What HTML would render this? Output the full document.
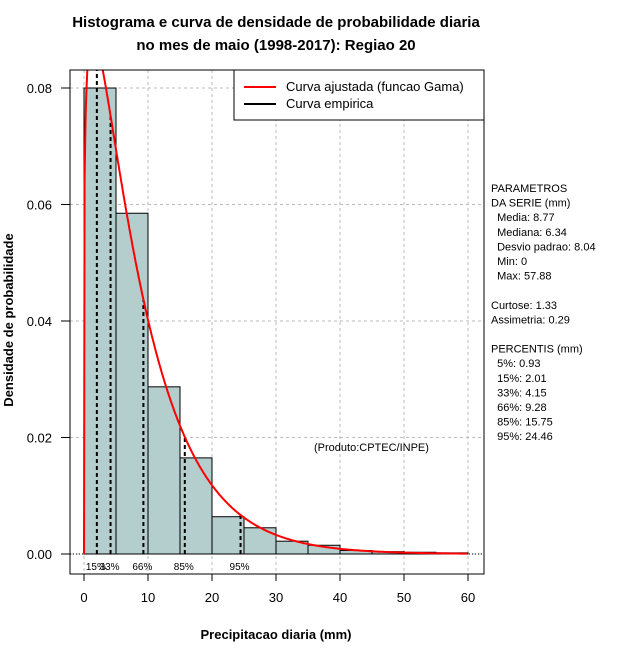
<!DOCTYPE html>
<html><head><meta charset="utf-8"><style>
body{margin:0;background:#fff;width:640px;height:660px;overflow:hidden}
svg{display:block;font-family:"Liberation Sans",sans-serif}
</style></head><body>
<svg id="chart" width="640" height="660">
<text x="276" y="27" text-anchor="middle" font-size="15" font-weight="bold">Histograma e curva de densidade de probabilidade diaria</text>
<text x="276" y="50" text-anchor="middle" font-size="15" font-weight="bold">no mes de maio (1998-2017): Regiao 20</text>
<text x="276" y="639" text-anchor="middle" font-size="13" font-weight="bold">Precipitacao diaria (mm)</text>
<text transform="translate(13,320) rotate(-90)" text-anchor="middle" font-size="13" font-weight="bold">Densidade de probabilidade</text>
<g id="grid"></g><g id="bars"></g><g id="pct"></g><g id="curve"></g><g id="axes"></g>
<rect x="70" y="70" width="414" height="504" fill="none" stroke="#000"/>
<g>
<rect x="234" y="70" width="250" height="50" fill="#fff" stroke="#000"/>
<line x1="244" y1="87" x2="276" y2="87" stroke="#f00" stroke-width="2"/>
<text x="286" y="91" font-size="13">Curva ajustada (funcao Gama)</text>
<line x1="244" y1="104" x2="276" y2="104" stroke="#000" stroke-width="2"/>
<text x="286" y="108" font-size="13">Curva empirica</text>
</g>
<text x="314" y="451" font-size="11">(Produto:CPTEC/INPE)</text>
<g id="stats" font-size="11"></g>
</svg>
<script>
const binStarts=[0,5,10,15,20,25,30,35,40,45,50,55];
const binDensity=[0.080,0.0585,0.0287,0.0165,0.0064,0.0045,0.0022,0.0015,0.0006,0.0004,0.0003,0.0002];
const gammaShape=[1.19];
const gammaScale=[7.37];
const pctNames=["5%","15%","33%","66%","85%","95%"];
const pctValues=[0.93,2.01,4.15,9.28,15.75,24.46];
const xTicks=[0,10,20,30,40,50,60];
const yTicks=[0,0.02,0.04,0.06,0.08];
const yTickLabels=["0.00","0.02","0.04","0.06","0.08"];
const statsLines=["PARAMETROS","DA SERIE (mm)","  Media: 8.77","  Mediana: 6.34","  Desvio padrao: 8.04","  Min: 0","  Max: 57.88","","Curtose: 1.33","Assimetria: 0.29","","PERCENTIS (mm)","  5%: 0.93","  15%: 2.01","  33%: 4.15","  66%: 9.28","  85%: 15.75","  95%: 24.46"];
const NS="http://www.w3.org/2000/svg";
const X=v=>84+v*6.4, Y=v=>554-v*5825;
function mk(t,a,p){const e=document.createElementNS(NS,t);for(const k in a)e.setAttribute(k,a[k]);p.appendChild(e);return e;}
function lgamma(z){const g=[76.18009172947146,-86.50532032941677,24.01409824083091,-1.231739572450155,0.1208650973866179e-2,-0.5395239384953e-5];let x=z,y=z,t=x+5.5;t-=(x+0.5)*Math.log(t);let s=1.000000000190015;for(const c of g)s+=c/++y;return -t+Math.log(2.5066282746310005*s/x);}
function pdf(x){const k=gammaShape[0],th=gammaScale[0];if(x<=0)return 0;return Math.exp((k-1)*Math.log(x)-x/th-lgamma(k)-k*Math.log(th));}
const grid=document.getElementById('grid');
xTicks.forEach(t=>{const l=mk('line',{x1:X(t),x2:X(t),y1:70,y2:574,stroke:'#bbb','stroke-dasharray':'3,3'},grid);});
yTicks.forEach(t=>{const l=mk('line',{x1:70,x2:484,y1:Y(t),y2:Y(t),stroke:'#bbb','stroke-dasharray':'3,3'},grid);});
const bars=document.getElementById('bars');
binStarts.forEach((s,i)=>{const r=mk('rect',{x:X(s),y:Y(binDensity[i]),width:X(s+5)-X(s),height:Y(0)-Y(binDensity[i]),fill:'#b4cdcd',stroke:'#000','stroke-width':1},bars);});
const pg=document.getElementById('pct');
pctValues.forEach((v,i)=>{if(i==0)return;const top=Math.max(70,Y(pdf(v)));const l=mk('line',{x1:X(v),x2:X(v),y1:554,y2:top,stroke:'#000','stroke-width':2,'stroke-dasharray':'4,3'},pg);
const t=mk('text',{x:X(v)-1,y:570,'font-size':10,'text-anchor':'middle'},pg);t.textContent=pctNames[i];});
mk('line',{x1:70,x2:484,y1:554,y2:554,stroke:'#000','stroke-dasharray':'1,2'},pg);
let d='';for(let x=0;x<=60;x+=0.1){const y=Math.max(Y(pdf(x)),60);d+=(d?'L':'M')+X(x).toFixed(1)+','+y.toFixed(1);}
const cv=document.getElementById('curve');
mk('clipPath',{id:'cp'},cv).appendChild(document.createElementNS(NS,'rect')).setAttribute('x',70);
const cr=cv.querySelector('clipPath rect');cr.setAttribute('y',70);cr.setAttribute('width',414);cr.setAttribute('height',504);
const p=mk('path',{d:d,fill:'none',stroke:'#f00','stroke-width':2,'clip-path':'url(#cp)'},cv);

const ax=document.getElementById('axes');
xTicks.forEach(t=>{mk('line',{x1:X(t),x2:X(t),y1:574,y2:581,stroke:'#000'},ax);const e=mk('text',{x:X(t),y:602,'font-size':13,'text-anchor':'middle'},ax);e.textContent=t;});
yTicks.forEach((t,i)=>{mk('line',{x1:61,x2:70,y1:Y(t),y2:Y(t),stroke:'#000'},ax);const e=mk('text',{x:52,y:Y(t)+5,'font-size':13,'text-anchor':'end'},ax);e.textContent=yTickLabels[i];});
const st=document.getElementById('stats');
statsLines.forEach((s,i)=>{const e=mk('text',{x:491,y:192+i*14.6,'xml:space':'preserve'},st);e.style.whiteSpace='pre';e.textContent=s;});
</script>
</body></html>
